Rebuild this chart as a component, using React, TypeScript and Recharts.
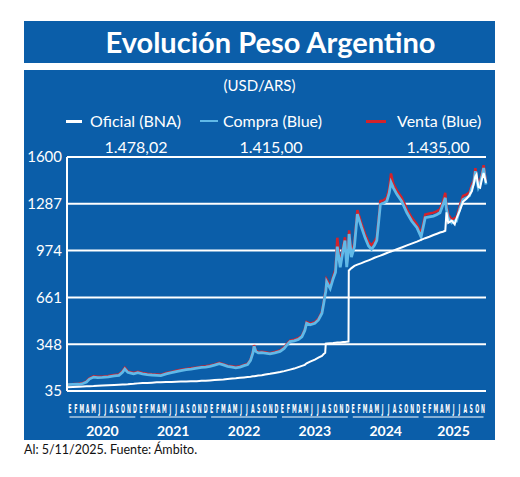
import { LineChart, Line, XAxis, YAxis, CartesianGrid } from 'recharts';

// position along the x axis, in months counted from January 2020
const monthPos = [
  0, 1, 2, 2.7, 3.3, 3.8, 4.5, 5.2, 6, 7, 8, 8.8, 9.4, 9.8, 10.3, 10.8, 11.3,
  12, 12.8, 13.6, 14.4, 15.2, 15.9, 16.8, 17.7, 18.5, 19.3, 20.2, 21, 22, 22.8, 23.5,
  24.2, 25, 25.8, 26.5, 27.2, 28, 28.6, 29.3, 30, 30.6, 31.1, 31.5, 31.7, 32, 32.4, 33, 33.6, 34.4, 35.2,
  36.1, 36.8, 37.3, 37.8, 38.5, 39.2, 39.8, 40.3, 40.6, 41.2, 42, 42.6, 43.2, 43.5, 43.75, 43.85,
  44, 44.6, 45.1, 45.5, 45.8, 46.3, 46.8, 47.1, 47.4, 47.7, 47.75, 47.8,
  48.2, 48.7, 49.2, 49.9, 50.5, 51.1, 51.6, 52.1, 52.5, 53.1, 53.6, 54.2, 54.6, 54.9, 55.3, 55.9,
  56.7, 57.6, 58.4, 59.3, 60, 60.7, 61.4, 62.1, 62.7, 63.2, 63.7, 64.1, 64.3, 64.6, 65.2, 65.7,
  66, 66.6, 67.1, 67.7, 68.2, 68.6, 68.9, 69.2, 69.4, 69.7, 70, 70.3, 70.6, 71,
];

const oficial = [
  60, 62, 64, 65, 66, 67, 68, 70, 71, 73, 75, 77, 78, 79, 80, 82, 83,
  86, 88, 89, 91, 93, 94, 95, 96, 97, 98, 99, 100, 101, 103, 104,
  106, 108, 110, 112, 115, 118, 120, 123, 126, 129, 131, 133, 134, 136, 138, 141, 145, 150, 156,
  162, 168, 173, 178, 185, 195, 203, 210, 220, 232, 245, 258, 270, 282, 290, 352,
  353, 355, 356, 358, 359, 360, 362, 363, 364, 365, 841, 842,
  857, 872, 880, 890, 900, 909, 917, 926, 932, 940, 948, 958, 964, 968, 974, 983,
  995, 1009, 1021, 1034, 1046, 1057, 1067, 1078, 1087, 1095, 1100, 1107, 1230, 1160, 1175, 1150,
  1190, 1245, 1300, 1320, 1345, 1370, 1416, 1470, 1483, 1400, 1394, 1450, 1493, 1427,
];

const compra = [
  78, 79, 80, 85, 95, 115, 128, 124, 126, 130, 136, 140, 160, 182, 160, 155, 150,
  157, 150, 145, 142, 140, 138, 150, 158, 165, 172, 178, 182, 188, 193, 195,
  200, 208, 218, 210, 200, 195, 190, 195, 205, 212, 240, 290, 335, 300, 290, 292, 288, 283, 290,
  300, 320, 345, 365, 370, 380, 398, 440, 488, 478, 488, 510, 555, 620, 680, 700,
  765, 720, 786, 830, 1000, 863, 980, 1041, 863, 980, 1040, 1085,
  930, 1000, 1218, 1130, 1061, 1005, 983, 1010, 1042, 1283, 1290, 1305, 1360, 1430, 1394, 1350,
  1305, 1227, 1172, 1127, 1065, 1194, 1200, 1205, 1215, 1227, 1280, 1327, 1250, 1194, 1160, 1172,
  1172, 1260, 1316, 1327, 1340, 1394, 1420, 1505, 1450, 1394, 1420, 1470, 1527, 1416,
];

const venta = [
  80, 81, 83, 88, 99, 120, 134, 130, 131, 135, 142, 146, 167, 190, 166, 161, 156,
  163, 156, 150, 147, 145, 143, 155, 163, 170, 177, 183, 187, 192, 198, 200,
  205, 213, 223, 215, 204, 200, 195, 200, 210, 217, 245, 296, 341, 305, 295, 297, 294, 288, 296,
  306, 327, 352, 372, 378, 388, 405, 448, 496, 486, 496, 518, 565, 630, 692, 712,
  780, 735, 800, 850, 1060, 880, 1000, 1063, 885, 1005, 1065, 1110,
  955, 1025, 1245, 1155, 1085, 1030, 1010, 1035, 1065, 1305, 1310, 1330, 1390, 1490, 1420, 1375,
  1330, 1250, 1195, 1150, 1090, 1215, 1222, 1228, 1238, 1250, 1300, 1360, 1270, 1215, 1180, 1192,
  1195, 1280, 1340, 1350, 1362, 1415, 1440, 1525, 1470, 1415, 1440, 1490, 1545, 1436,
];

const monthLetters = ['E', 'F', 'M', 'A', 'M', 'J', 'J', 'A', 'S', 'O', 'N', 'D'];
const years = ['2020', '2021', '2022', '2023', '2024', '2025'];
const monthsPerYear = [12, 12, 12, 12, 12, 11];
const yTicks = [35, 348, 661, 974, 1287, 1600];
const legendNames = ['Oficial (BNA)', 'Compra (Blue)', 'Venta (Blue)'];
const lastValues = ['1.478,02', '1.415,00', '1.435,00'];

const BG = '#0b5ea9';
const SKY = '#60b9e8';
const RED = '#d3232b';
const FONT = 'Lato, "Open Sans", sans-serif';

const totalMonths = monthsPerYear.reduce((a, b) => a + b, 0);
const PLOT_W = 419;
const pxPerMonth = PLOT_W / totalMonths;

const data = monthPos.map((t, i) => ({
  t,
  oficial: oficial[i],
  compra: compra[i],
  venta: venta[i],
}));

const monthTicks = Array.from({ length: totalMonths }, (_, i) => i + 0.5);
const yearTicks = monthsPerYear.map((n, i) => {
  const start = monthsPerYear.slice(0, i).reduce((a, b) => a + b, 0);
  return start + n / 2;
});

function MonthTick({ x, y, payload }: any) {
  const i = Math.floor(payload.value);
  return (
    <text
      transform={`translate(${x},${y + 20}) scale(0.4,1)`}
      textAnchor="middle"
      fill="#fff"
      fontSize={13}
      fontWeight={700}
      fontFamily='"DejaVu Sans Condensed", "DejaVu Sans", sans-serif'
    >
      {monthLetters[i % 12]}
    </text>
  );
}

function YearTick({ x, y, index }: any) {
  const half = (monthsPerYear[index] * pxPerMonth) / 2 - 2.5;
  return (
    <g>
      <line x1={x - half} x2={x + half} y1={y + 6} y2={y + 6} stroke="#fff" strokeWidth={1} />
      <text
        x={x}
        y={y + 25}
        textAnchor="middle"
        fill="#fff"
        fontSize={14}
        fontWeight={700}
        fontFamily={FONT}
      >
        {years[index]}
      </text>
    </g>
  );
}

const legendItems = [
  { left: 66, width: 16, height: 3, color: '#fff', textLeft: 90, valueCenter: 136 },
  { left: 200, width: 18, height: 2, color: SKY, textLeft: 223, valueCenter: 271 },
  { left: 366, width: 20, height: 3, color: RED, textLeft: 397, valueCenter: 438 },
];

export default function App() {
  return (
    <div
      style={{
        position: 'absolute',
        left: 0,
        top: 0,
        width: 520,
        height: 477,
        background: '#fff',
        fontFamily: FONT,
        overflow: 'hidden',
      }}
    >
      <div
        style={{
          position: 'absolute',
          left: 24,
          top: 21,
          width: 471,
          height: 42,
          background: BG,
          color: '#fff',
          fontSize: 29,
          fontWeight: 700,
          lineHeight: '42px',
          textAlign: 'center',
          paddingLeft: 22,
          boxSizing: 'border-box',
        }}
      >
        Evolución Peso Argentino
      </div>
      <div
        style={{
          position: 'absolute',
          left: 24,
          top: 70,
          width: 471,
          height: 370,
          background: BG,
        }}
      />
      <div
        style={{
          position: 'absolute',
          left: 24,
          top: 75,
          width: 471,
          textAlign: 'center',
          color: '#fff',
          fontSize: 15,
          lineHeight: '20px',
        }}
      >
        (USD/ARS)
      </div>
      {legendItems.map((it, i) => (
        <div key={legendNames[i]}>
          <div
            style={{
              position: 'absolute',
              left: it.left,
              top: 121 - it.height / 2,
              width: it.width,
              height: it.height,
              background: it.color,
            }}
          />
          <div
            style={{
              position: 'absolute',
              left: it.textLeft,
              top: 110,
              color: '#fff',
              fontSize: 16,
              lineHeight: '22px',
              whiteSpace: 'nowrap',
            }}
          >
            {legendNames[i]}
          </div>
          <div
            style={{
              position: 'absolute',
              left: it.valueCenter - 60,
              width: 120,
              top: 136,
              color: '#fff',
              fontSize: 16,
              lineHeight: '22px',
              textAlign: 'center',
            }}
          >
            {lastValues[i]}
          </div>
        </div>
      ))}
      <div
        style={{
          position: 'absolute',
          left: 24,
          top: 442,
          color: '#111',
          fontSize: 12.5,
          lineHeight: '16px',
        }}
      >
        Al: 5/11/2025. Fuente: Ámbito.
      </div>
      <div style={{ position: 'absolute', left: 0, top: 0 }}>
        <LineChart
          width={520}
          height={477}
          data={data}
          margin={{ top: 157, right: 34, left: 27, bottom: 38 }}
        >
          <CartesianGrid vertical={false} stroke="#fff" strokeWidth={2} />
          <XAxis
            xAxisId="m"
            type="number"
            dataKey="t"
            domain={[0, totalMonths]}
            ticks={monthTicks}
            interval={0}
            tick={<MonthTick />}
            tickLine={false}
            axisLine={false}
            tickSize={0}
            height={18}
          />
          <XAxis
            xAxisId="y"
            type="number"
            dataKey="t"
            domain={[0, totalMonths]}
            ticks={yearTicks}
            interval={0}
            tick={<YearTick />}
            tickLine={false}
            axisLine={false}
            tickSize={0}
            height={30}
          />
          <YAxis
            type="number"
            domain={[35, 1600]}
            ticks={yTicks}
            interval={0}
            width={40}
            tickLine={false}
            tickSize={3}
            tickMargin={2}
            axisLine={{ stroke: '#fff', strokeWidth: 2 }}
            tick={{ fill: '#fff', fontSize: 15, fontFamily: FONT }}
          />
          <Line
            xAxisId="m"
            type="linear"
            dataKey="venta"
            stroke={RED}
            strokeWidth={2.5}
            dot={false}
            isAnimationActive={false}
          />
          <Line
            xAxisId="m"
            type="linear"
            dataKey="compra"
            stroke={SKY}
            strokeWidth={2.8}
            dot={false}
            isAnimationActive={false}
          />
          <Line
            xAxisId="m"
            type="linear"
            dataKey="oficial"
            stroke="#fff"
            strokeWidth={2}
            dot={false}
            isAnimationActive={false}
          />
        </LineChart>
      </div>
    </div>
  );
}
